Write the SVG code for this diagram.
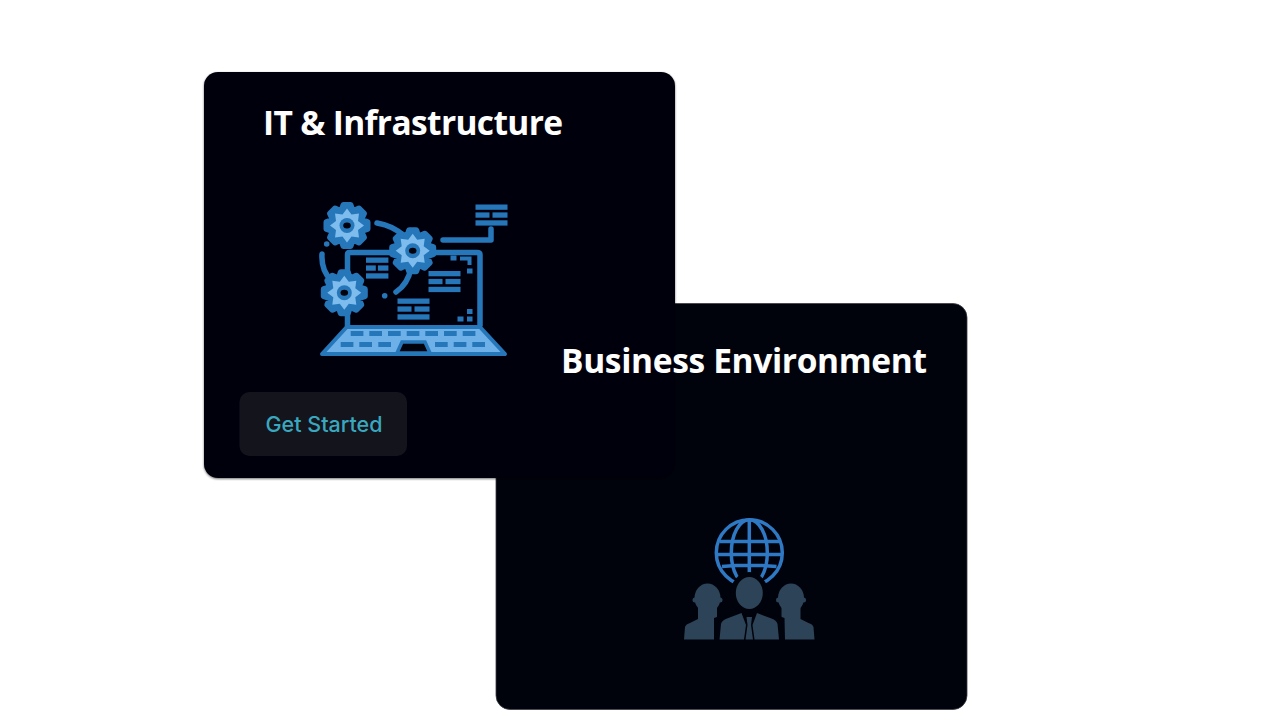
<svg xmlns="http://www.w3.org/2000/svg" width="1280" height="720" viewBox="0 0 1280 720">
<style>
.card{fill:#00030c}
.title{font-family:"Open Sans","Liberation Sans",sans-serif;font-weight:700;font-size:33.500px;fill:#ffffff}
.btn{font-family:"Inter","Roboto","Liberation Sans",sans-serif;font-weight:500;font-size:21.5px;fill:#39a8bf}
.b{fill:#2677b9}
.ln{fill:none;stroke:#2677b9;stroke-width:5.500;stroke-linecap:round;stroke-linejoin:round}
.key{fill:#2677b9}
.p{fill:#2d4358}
.g{fill:none;stroke:#2f78c4;stroke-width:3.500}
</style>
<defs>
<filter id="sh" x="-5%" y="-5%" width="110%" height="110%"><feDropShadow dx="0" dy="1" stdDeviation="1.2" flood-color="#000" flood-opacity="0.55"/></filter>
<g id="bars"><rect x="0" y="0" width="32" height="5.300"/><rect x="0" y="7.900" width="14" height="5.300"/><rect x="17" y="7.900" width="15" height="5.300"/><rect x="0" y="15.800" width="32" height="5.300"/></g>
<g id="gear">
<polygon class="b" stroke="#2677b9" stroke-width="6" stroke-linejoin="round" points="-3.500,-20.500 3.500,-20.500 5.700,-14 12,-17 17,-12 14,-5.700 20.500,-3.500 20.500,3.500 14,5.700 17,12 12,17 5.700,14 3.500,20.500 -3.500,20.500 -5.700,14 -12,17 -17,12 -14,5.700 -20.500,3.500 -20.500,-3.500 -14,-5.700 -17,-12 -12,-17 -5.700,-14"/>
<polygon fill="#7dbcec" points="0,-17 4.500,-11 12,-12 11,-4.500 17,0 11,4.500 12,12 4.500,11 0,17 -4.500,11 -12,12 -11,4.500 -17,0 -11,-4.500 -12,-12 -4.500,-11"/>
<circle r="7.500" class="b"/>
<ellipse rx="3.800" ry="3" fill="#00030c"/>
</g>
</defs>
<rect width="1280" height="720" fill="#ffffff"/>

<g id="card-business">
<rect class="card" x="496" y="303.500" width="471" height="406" rx="14" stroke="#3a3d45" stroke-width="0.8"/>
<g id="icon-business">
<g class="g">
<circle cx="749.300" cy="552.700" r="33"/>
<ellipse cx="749.300" cy="552.700" rx="18" ry="33"/>
<path d="M749.300 519.700V580M719.500 541.500H779M716.500 554.500H782M722 566.500Q749.300 564 776.500 566.500"/>
</g>
<g id="person-left">
<circle class="p" cx="695" cy="600" r="2.500"/>
<circle class="p" cx="720" cy="600" r="2.500"/>
<ellipse class="p" cx="707.500" cy="598" rx="13" ry="14.500"/>
<path class="p" d="M698 606H717L717 616L716 639.500H684L685 627Q686 624 690 623L698 619Z"/>
</g>
<g id="person-right">
<circle class="p" cx="803.500" cy="600" r="2.500"/>
<circle class="p" cx="778.500" cy="600" r="2.500"/>
<ellipse class="p" cx="791" cy="598" rx="13" ry="14.500"/>
<path class="p" d="M800.500 606H781.500L781.500 616L782.500 639.500H814.500L813.500 627Q812.500 624 808.500 623L800.500 619Z"/>
</g>
<ellipse cx="749.300" cy="594" rx="19" ry="22" fill="#00030c"/>
<ellipse class="p" cx="749.300" cy="593" rx="13.500" ry="16"/>
<path fill="#00030c" d="M714 618L726 614L719 640H714ZM784.500 618L773 614L780 640H785Z"/>
<path class="p" d="M719.500 639.500L721 624Q722 620 727 618.500L741.500 613L746 625L744 639.500Z"/>
<path class="p" d="M779 639.500L777.500 624Q776.500 620 771.500 618.500L757 613L752.500 625L754.500 639.500Z"/>
<path class="p" d="M746.500 617H752L751 625L753 639.500H745.500L747.500 625Z"/>
</g>
</g>

<g id="card-it">
<rect class="card" x="204" y="72" width="471" height="406" rx="14" filter="url(#sh)"/>
<text class="title" x="263" y="135" textLength="300">IT &amp; Infrastructure</text>
<g id="icon-it">
<path d="M347.500 326.500V254.500Q347.500 252.500 349.500 252.500H477Q480 252.500 480 254.500V326.500" fill="none" stroke="#2677b9" stroke-width="5.500"/>
<polygon points="346.700,327 480,327 505,354 322,354" fill="#6db1e8" stroke="#2677b9" stroke-width="4" stroke-linejoin="round"/>
<g class="key">
<rect x="350.700" y="331" width="12.700" height="5"/><rect x="369.300" y="331" width="12.700" height="5"/><rect x="388" y="331" width="12.700" height="5"/><rect x="406.700" y="331" width="12.700" height="5"/><rect x="425.300" y="331" width="12.700" height="5"/><rect x="444" y="331" width="12.700" height="5"/><rect x="462.700" y="331" width="12.700" height="5"/>
<rect x="340.700" y="342" width="12.700" height="5"/><rect x="359.300" y="342" width="12.700" height="5"/><rect x="378.300" y="342" width="12.700" height="5"/><rect x="435" y="342" width="12.700" height="5"/><rect x="453.700" y="342" width="12.700" height="5"/><rect x="472.300" y="342" width="12.700" height="5"/>
</g>
<polygon points="402,342 425,342 430,353 397,353" fill="#00030c" stroke="#2677b9" stroke-width="3.500"/>
<g class="ln">
<path d="M377 223Q394 226 404 236"/>
<path d="M411 268Q408 284 396 292"/>
<path d="M322 254Q321 270 331 280"/>
<path d="M443 240H491V229"/>
</g>
<circle class="b" cx="326.700" cy="244" r="2.800"/>
<circle class="b" cx="384.700" cy="295.700" r="2.800"/>
<g class="key">
<use href="#bars" transform="translate(366 257.500) scale(0.700 1)"/>
<use href="#bars" transform="translate(428.500 271)"/>
<use href="#bars" transform="translate(397.500 298.500)"/>
<use href="#bars" transform="translate(475.500 204.500)"/>
<rect x="450.500" y="255.500" width="6" height="5"/>
<path d="M460 256.500H471.500V265H467.500V260.500H460Z"/>
<rect x="467" y="268.500" width="5.500" height="5"/>
<rect x="467" y="309" width="5.500" height="5"/>
<rect x="457.500" y="316.500" width="6" height="5"/>
<rect x="467" y="316.500" width="5.500" height="5"/>
</g>
<use href="#gear" transform="translate(347 225.500)"/>
<use href="#gear" transform="translate(412.700 250.700)"/>
<use href="#gear" transform="translate(344.300 292.700)"/>
</g>
<g id="btn-get-started">
<rect x="239.500" y="392" width="167.500" height="64" rx="10" fill="#14141d"/>
<text class="btn" x="265.500" y="431.500">Get Started</text>
</g>
</g>
<text id="title-business" class="title" x="561" y="373" textLength="366">Business Environment</text>
</svg>
